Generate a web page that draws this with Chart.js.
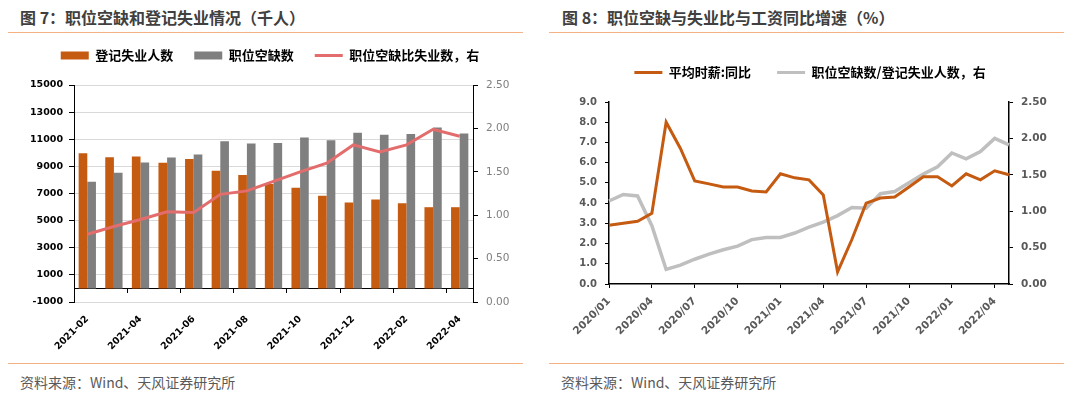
<!DOCTYPE html>
<html>
<head>
<meta charset="utf-8">
<script src="https://cdn.jsdelivr.net/npm/chart.js@4.4.1/dist/chart.umd.min.js"></script>
<style>
    body {
        margin: 0;
        width: 1080px;
        height: 398px;
        background: #fff;
        position: relative;
        overflow: hidden;
        font-family: "Noto Sans CJK SC", sans-serif;
    }
    .title {
        position: absolute;
        top: 6px;
        font-size: 16px;
        font-weight: bold;
        line-height: 22px;
        color: #404040;
        white-space: nowrap;
    }
    .rule {
        position: absolute;
        height: 0;
        width: 515px;
        border-top: 1.5px solid #f4b183;
    }
    .source {
        position: absolute;
        top: 372px;
        font-size: 14px;
        line-height: 20px;
        color: #595959;
        white-space: nowrap;
    }
    canvas {
        position: absolute;
    }
</style>
</head>
<body>
<div class="title" style="left:20px">图 7：职位空缺和登记失业情况（千人）</div>
<div class="title" style="left:562px">图 8：职位空缺与失业比与工资同比增速（%）</div>
<div class="rule" style="left:8px; top:32px"></div>
<div class="rule" style="left:549px; top:32px"></div>

<canvas id="chartLeft" width="540" height="338" style="left:0; top:24px"></canvas>
<canvas id="chartRight" width="540" height="326" style="left:540px; top:36px"></canvas>

<div class="rule" style="left:8px; top:363px"></div>
<div class="rule" style="left:549px; top:363px"></div>
<div class="source" style="left:20px">资料来源：Wind、天风证券研究所</div>
<div class="source" style="left:561px">资料来源：Wind、天风证券研究所</div>

<script>
// ---- 图7 data (thousand people) ----
const monthsLeft = [
    "2021-02", "2021-03", "2021-04", "2021-05", "2021-06", "2021-07", "2021-08",
    "2021-09", "2021-10", "2021-11", "2021-12", "2022-01", "2022-02", "2022-03",
    "2022-04",
];
const unemployed = [9970, 9670, 9720, 9260, 9550, 8670, 8360, 7700, 7430, 6840, 6330, 6550, 6280, 5990, 5990];
const vacancies = [7870, 8530, 9280, 9650, 9870, 10850, 10680, 10730, 11120, 10920, 11480, 11340, 11380, 11870, 11430];
const vacancyRatio = [0.78, 0.87, 0.95, 1.04, 1.03, 1.24, 1.28, 1.39, 1.5, 1.6, 1.81, 1.73, 1.81, 1.99, 1.91];

// ---- 图8 data ----
const monthsRight = [
    "2020/01", "2020/02", "2020/03", "2020/04", "2020/05", "2020/06", "2020/07",
    "2020/08", "2020/09", "2020/10", "2020/11", "2020/12", "2021/01", "2021/02",
    "2021/03", "2021/04", "2021/05", "2021/06", "2021/07", "2021/08", "2021/09",
    "2021/10", "2021/11", "2021/12", "2022/01", "2022/02", "2022/03", "2022/04",
    "2022/05",
];
const wageYoY = [
    2.9, 3.0, 3.1, 3.5, 8.0, 6.7, 5.1, 4.95, 4.8, 4.8, 4.6, 4.55, 5.45, 5.25, 5.15,
    4.4, 0.6, 2.2, 4.0, 4.25, 4.3, 4.8, 5.3, 5.3, 4.85, 5.45, 5.15, 5.6, 5.4,
];
const ratioRight = [
    1.14, 1.23, 1.21, 0.8, 0.2, 0.26, 0.34, 0.41, 0.47, 0.52, 0.61, 0.64, 0.64, 0.7,
    0.78, 0.85, 0.94, 1.05, 1.04, 1.24, 1.27, 1.39, 1.51, 1.61, 1.8, 1.72, 1.82,
    2.0, 1.91,
];

const ORANGE = "#c55a11";
const numFont = "DejaVu Sans";
const cjkFont = "Noto Sans CJK SC";

// bars get a rect swatch, lines get a short stroke; keep dataset order
function legendItems(chart) {
    const items = Chart.defaults.plugins.legend.labels.generateLabels(chart);
    items.sort(function (a, b) {
        return a.datasetIndex - b.datasetIndex;
    });
    items.forEach(function (item) {
        const ds = chart.data.datasets[item.datasetIndex];
        item.pointStyle = ds.type === "line" || chart.config.type === "line" ? "line" : "rect";
        if (item.pointStyle === "line") {
            item.strokeStyle = ds.borderColor;
            item.lineWidth = 3;
        }
    });
    return items;
}

function legendOpts(gap) {
    return {
        position: "top",
        labels: {
            usePointStyle: true,
            pointStyleWidth: 28,
            boxHeight: 8,
            padding: gap,
            color: "#000",
            font: { family: cjkFont, size: 13, weight: "bold" },
            generateLabels: legendItems,
        },
    };
}

// extra room under the legend
function legendGap(px) {
    return {
        id: "legendGap",
        beforeInit: function (chart) {
            const fit = chart.legend.fit;
            chart.legend.fit = function () {
                fit.call(this);
                this.height += px;
            };
        },
    };
}

function plain(v) {
    return String(v);
}

document.addEventListener("DOMContentLoaded", function () {
    /* ===== 图7: bars + ratio line ===== */
    new Chart(document.getElementById("chartLeft"), {
        type: "bar",
        data: {
            labels: monthsLeft,
            datasets: [
                {
                    label: "登记失业人数",
                    data: unemployed,
                    backgroundColor: ORANGE,
                    yAxisID: "y",
                    order: 2,
                    barPercentage: 1,
                    categoryPercentage: 0.65,
                },
                {
                    label: "职位空缺数",
                    data: vacancies,
                    backgroundColor: "#7f7f7f",
                    yAxisID: "y",
                    order: 2,
                    barPercentage: 1,
                    categoryPercentage: 0.65,
                },
                {
                    type: "line",
                    label: "职位空缺比失业数，右",
                    data: vacancyRatio,
                    borderColor: "#e36c6c",
                    backgroundColor: "#e36c6c",
                    borderWidth: 3,
                    pointRadius: 0,
                    yAxisID: "y1",
                    order: 1,
                },
            ],
        },
        plugins: [legendGap(13)],
        options: {
            responsive: false,
            animation: false,
            layout: { padding: { top: 4, bottom: 60 } },
            plugins: { legend: legendOpts(21), tooltip: { enabled: false } },
            scales: {
                x: {
                    position: { y: 0 },
                    border: { color: "#000", width: 1 },
                    grid: {
                        drawOnChartArea: false,
                        offset: true,
                        tickLength: 4,
                        tickColor: function (ctx) {
                            const i = ctx.index;
                            return i !== undefined && i > 0 && i % 2 === 0 ? "#000" : "rgba(0,0,0,0)";
                        },
                    },
                    ticks: {
                        autoSkip: false,
                        minRotation: 45,
                        maxRotation: 45,
                        padding: 21,
                        color: "#000",
                        font: { family: numFont, size: 9.5, weight: "bold" },
                        callback: function (v, i) {
                            return i % 2 === 0 ? monthsLeft[i] : "";
                        },
                    },
                },
                y: {
                    position: "left",
                    min: -1000,
                    max: 15000,
                    border: { color: "#000" },
                    grid: { color: "#d9d9d9", tickColor: "#000", tickLength: 5 },
                    ticks: {
                        stepSize: 2000,
                        padding: 6,
                        color: "#000",
                        font: { family: numFont, size: 9.5, weight: "bold" },
                        callback: plain,
                    },
                    afterFit: function (s) {
                        s.width = 74;
                    },
                },
                y1: {
                    position: "right",
                    min: 0,
                    max: 2.5,
                    border: { color: "#000" },
                    grid: { drawOnChartArea: false, tickColor: "#000", tickLength: 5 },
                    ticks: {
                        stepSize: 0.5,
                        padding: 8,
                        color: "#7f7f7f",
                        font: { family: numFont, size: 10.5 },
                        callback: function (v) {
                            return v.toFixed(2);
                        },
                    },
                    afterFit: function (s) {
                        s.width = 67;
                    },
                },
            },
        },
    });

    /* ===== 图8: two lines, dual axis ===== */
    new Chart(document.getElementById("chartRight"), {
        type: "line",
        data: {
            labels: monthsRight,
            datasets: [
                {
                    label: "平均时薪:同比",
                    data: wageYoY,
                    borderColor: ORANGE,
                    backgroundColor: ORANGE,
                    borderWidth: 3,
                    pointRadius: 0,
                    yAxisID: "y",
                },
                {
                    label: "职位空缺数/登记失业人数，右",
                    data: ratioRight,
                    borderColor: "#bfbfbf",
                    backgroundColor: "#bfbfbf",
                    borderWidth: 3.5,
                    pointRadius: 0,
                    yAxisID: "y1",
                },
            ],
        },
        plugins: [legendGap(13)],
        options: {
            responsive: false,
            animation: false,
            layout: { padding: { top: 4 } },
            plugins: { legend: legendOpts(26), tooltip: { enabled: false } },
            scales: {
                x: {
                    offset: false,
                    border: { color: "#000", width: 1.5 },
                    grid: {
                        drawOnChartArea: false,
                        tickLength: 4,
                        tickColor: function (ctx) {
                            return ctx.index !== undefined && ctx.index % 3 === 0 ? "#000" : "rgba(0,0,0,0)";
                        },
                    },
                    ticks: {
                        autoSkip: false,
                        minRotation: 45,
                        maxRotation: 45,
                        padding: 7,
                        color: "#595959",
                        font: { family: numFont, size: 10.5, weight: "bold" },
                        callback: function (v, i) {
                            return i % 3 === 0 ? monthsRight[i] : "";
                        },
                    },
                    afterFit: function (s) {
                        s.height = 78;
                    },
                },
                y: {
                    position: "left",
                    min: 0,
                    max: 9,
                    border: { color: "#000", width: 1.5 },
                    grid: { drawOnChartArea: false, tickColor: "#000", tickLength: 4 },
                    ticks: {
                        stepSize: 1,
                        padding: 8,
                        color: "#595959",
                        font: { family: numFont, size: 10, weight: "bold" },
                        callback: function (v) {
                            return v.toFixed(1);
                        },
                    },
                    afterFit: function (s) {
                        s.width = 69;
                    },
                },
                y1: {
                    position: "right",
                    min: 0,
                    max: 2.5,
                    border: { color: "#000", width: 1.5 },
                    grid: { drawOnChartArea: false, tickColor: "#000", tickLength: 4 },
                    ticks: {
                        stepSize: 0.5,
                        padding: 8,
                        color: "#595959",
                        font: { family: numFont, size: 10.5, weight: "bold" },
                        callback: function (v) {
                            return v.toFixed(2);
                        },
                    },
                    afterFit: function (s) {
                        s.width = 71;
                    },
                },
            },
        },
    });
});
</script>
</body>
</html>
